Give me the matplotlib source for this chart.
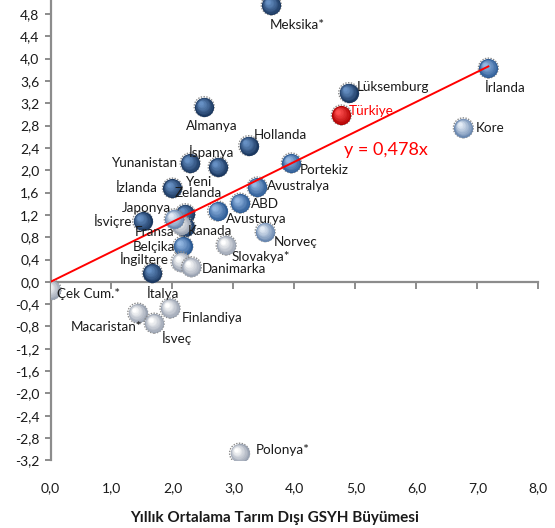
import matplotlib
matplotlib.use("Agg")
import matplotlib.pyplot as plt
import matplotlib.transforms as mtransforms
import matplotlib.colors as mcolors
import numpy as np

plt.rcParams['font.family'] = ['Lato', 'DejaVu Sans']

# data: annual non-agricultural GDP growth (x) vs. employment growth (y)
countries = ["Meksika*", "İrlanda", "Lüksemburg", "Türkiye", "Kore", "Almanya",
             "Hollanda", "İspanya", "Yunanistan", "Portekiz", "İzlanda",
             "Avustralya", "ABD", "Avusturya", "Yeni\nZelanda", "Kanada",
             "Fransa", "Japonya", "İsviçre", "Norveç", "Belçika", "Slovakya*",
             "İngiltere", "Danimarka", "İtalya", "Çek Cum.*", "Macaristan*",
             "Finlandiya", "İsveç", "Polonya*"]
gdp_growth = [3.62, 7.18, 4.89, 4.77, 6.77, 2.52, 3.25, 2.75, 2.29, 3.95, 2.00,
              3.39, 3.11, 2.74, 2.21, 2.21, 2.14, 2.03, 1.51, 3.52, 2.17, 2.88,
              2.14, 2.31, 1.67, 0.01, 1.43, 1.96, 1.70, 3.10]
emp_growth = [4.96, 3.83, 3.39, 2.99, 2.76, 3.14, 2.44, 2.06, 2.13, 2.13, 1.68,
              1.70, 1.41, 1.27, 1.22, 0.98, 1.02, 1.13, 1.09, 0.90, 0.64, 0.66,
              0.36, 0.27, 0.16, -0.14, -0.56, -0.47, -0.74, -3.07]
trend_x = [0.0, 7.18]
trend_y = [0.0, 3.86]
trend_label = "y = 0,478x"

# styling per point (shade group) and label offsets in pixels
shade = [0, 1, 0, 'r', 2, 0, 0, 0, 0, 1, 0, 1, 1, 1, 0, 0, 3, 2, 0, 2, 1, 3,
         3, 3, 0, 3, 3, 3, 3, 3]
palette = {0: ('#1b3860', '#6690c4'),
           1: ('#2c5b95', '#94b7e2'),
           2: ('#6a88b0', '#e4ecf6'),
           3: ('#9aa3b2', '#ffffff'),
           'r': ('#b00000', '#ff5050')}
label_pos = {
    "Meksika*": (-2, -20, 'left'), "İrlanda": (-3, -20, 'left'),
    "Lüksemburg": (8, 6, 'left'), "Türkiye": (7, 4, 'left'),
    "Kore": (12, 0, 'left'), "Almanya": (8, -19, 'center'),
    "Hollanda": (5, 11, 'left'), "İspanya": (-7, 15, 'center'),
    "Yunanistan": (-13, 0, 'right'), "Portekiz": (8, -7, 'left'),
    "İzlanda": (-15, 0, 'right'), "Avustralya": (10, 1, 'left'),
    "ABD": (11, -1, 'left'), "Avusturya": (8, -8, 'left'),
    "Kanada": (2, -4, 'left'), "Yeni\nZelanda": (13, 26, 'center'),
    "Fransa": (-7, -7, 'right'), "Japonya": (-3, 11, 'right'),
    "İsviçre": (-10, 0, 'right'), "Norveç": (9, -10, 'left'),
    "Belçika": (-8, -1, 'right'), "Slovakya*": (5, -12, 'left'),
    "İngiltere": (-12, 3, 'right'), "Danimarka": (10, -2, 'left'),
    "İtalya": (-5, -20, 'left'), "Çek Cum.*": (6, -4, 'left'),
    "Macaristan*": (5, -14, 'right'), "Finlandiya": (12, -10, 'left'),
    "İsveç": (8, -15, 'left'), "Polonya*": (16, 3, 'left'),
}

fig = plt.figure(figsize=(5.55, 5.28), dpi=100)
ax = fig.add_axes([0.091, 0.128, 0.879, 0.872])


def mix(c1, c2, t):
    a = np.array(mcolors.to_rgb(c1))
    b = np.array(mcolors.to_rgb(c2))
    return tuple(a * (1 - t) + b * t)


def sphere(x, y, base, hi, size=190, n=9):
    # rough soft edge
    ax.scatter([x], [y], s=size * 1.08, facecolor='none', edgecolor='#8a8a8a',
               linewidths=1.0, linestyle=(0, (1, 1)), zorder=3)
    for i in range(n):
        t = i / (n - 1)
        frac = 1 - 0.78 * t
        off = mtransforms.offset_copy(ax.transData, fig=fig, x=-2.4 * t,
                                      y=2.4 * t, units='points')
        ax.scatter([x], [y], s=size * frac ** 2, color=mix(base, hi, t ** 0.9),
                   linewidths=0, transform=off, zorder=3)


for name, gx, ey, sh in zip(countries, gdp_growth, emp_growth, shade):
    base, hi = palette[sh]
    sphere(gx, ey, base, hi)
    dx, dy, ha = label_pos[name]
    ax.annotate(name, (gx, ey), xytext=(dx, dy), textcoords='offset pixels',
                ha=ha, va='center', fontsize=9.7, linespacing=0.95,
                color='#ff0000' if sh == 'r' else '#1a1a1a', zorder=5)

ax.plot(trend_x, trend_y, color='#ff0000', lw=1.4, zorder=4)
ax.text(4.82, 2.37, trend_label, color='#ff0000', fontsize=13, va='center',
        ha='left', zorder=5)

ax.set_xlim(0, 8)
ax.set_ylim(-3.2, 5.05)
ax.spines['top'].set_visible(False)
ax.spines['right'].set_visible(False)
ax.spines['bottom'].set_position(('data', 0))
for s in ('left', 'bottom'):
    ax.spines[s].set_color('#8c8c8c')
    ax.spines[s].set_linewidth(1.6)
ax.spines['left'].set_bounds(-3.2, 5.05)

fmt = plt.FuncFormatter(lambda v, p: f"{v:.1f}".replace('.', ',').replace('-0,0', '0,0'))
ax.set_yticks(np.round(np.arange(-3.2, 4.81, 0.4), 1))
ax.yaxis.set_major_formatter(fmt)
ax.set_xticks(range(0, 9))
ax.tick_params(axis='y', direction='out', length=4, width=1.4, color='#8c8c8c',
               labelsize=10, pad=4, labelcolor='#1a1a1a')
ax.tick_params(axis='x', direction='out', length=5, width=1.4, color='#8c8c8c',
               labelbottom=False)

sec = ax.secondary_xaxis('bottom')
sec.set_xticks(range(0, 9))
sec.xaxis.set_major_formatter(fmt)
sec.spines['bottom'].set_visible(False)
sec.tick_params(length=0, pad=16, labelsize=10, labelcolor='#1a1a1a')

fig.text(0.4955, 1 - 518 / 528, "Yıllık Ortalama Tarım Dışı GSYH Büyümesi",
         ha='center', va='center', fontsize=11, fontweight='bold',
         color='#1a1a1a')

fig.savefig("out.png", dpi=100)
